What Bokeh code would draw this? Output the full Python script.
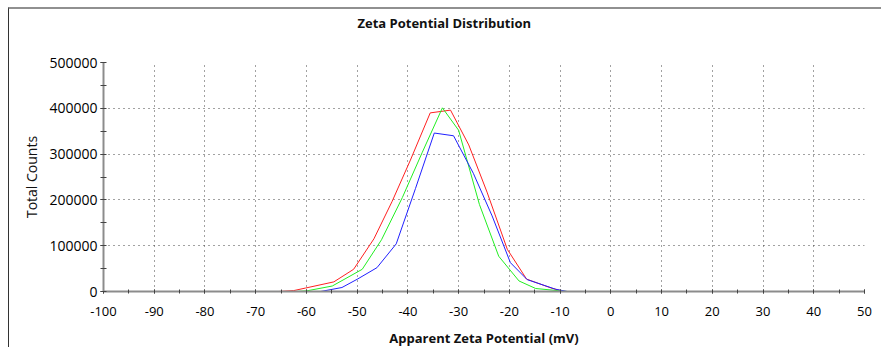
from bokeh.plotting import figure
from bokeh.models import SingleIntervalTicker, NumeralTickFormatter, Range1d, Title
from bokeh.embed import file_html
from bokeh.resources import INLINE

# ---- data ----
red_x = [-65.5, -62.5, -60.2, -54.6, -50.7, -46.7, -43.1, -39.5, -35.6, -31.6, -28.0, -24.4, -20.4, -16.6, -11.6, -9.9]
red_y = [0, 2000, 7500, 21000, 48500, 115000, 197000, 287000, 390000, 396000, 320000, 217000, 92000, 27000, 7000, 2000]

green_x = [-62.0, -59.9, -54.9, -49.0, -45.2, -41.1, -37.2, -33.2, -30.0, -25.9, -22.1, -18.1, -14.8, -8.6]
green_y = [0, 1500, 12000, 48500, 113000, 205000, 303000, 401000, 352000, 190000, 77000, 23000, 6500, 0]

blue_x = [-100, -57.2, -53.0, -50.0, -46.1, -42.3, -38.5, -34.8, -31.0, -27.1, -23.4, -19.8, -16.5, -10.9, -8.6, 50]
blue_y = [0, 0, 8700, 26700, 52000, 104000, 225000, 346000, 340000, 258000, 165000, 63000, 26000, 5000, 0, 0]

x_range = (-100, 50)
y_range = (0, 500000)
title_text = "Zeta Potential Distribution"

FONT = "Open Sans"

p = figure(width=873, height=340, output_backend="svg", toolbar_location=None,
           x_range=Range1d(*x_range), y_range=Range1d(*y_range),
           min_border_left=94, min_border_right=18, min_border_top=53, min_border_bottom=57)
p.title.visible = False
p.styles = {"border-top": "2px solid #909090", "border-left": "1px solid #333333",
            "margin-left": "8px", "margin-top": "7px"}
p.outline_line_color = None
p.background_fill_color = "white"
p.border_fill_color = "white"

# spacer panel between frame and the title (pushes title towards the top edge)
spacer = Title(text=" ", text_font=FONT, text_font_size="13px", standoff=11,
               text_color="white")
p.add_layout(spacer, "above")
main_title = Title(text=title_text, align="left", offset=254, standoff=0,
                   text_font=FONT, text_font_size="13px", text_font_style="bold",
                   text_color="#111111")
p.add_layout(main_title, "above")

p.line(red_x, red_y, line_color="#ff2020", line_width=1)
p.line(green_x, green_y, line_color="#22ee22", line_width=1)
p.line(blue_x, blue_y, line_color="#2020ff", line_width=1)

# axes
p.xaxis.ticker = SingleIntervalTicker(interval=10, num_minor_ticks=2)
p.yaxis.ticker = SingleIntervalTicker(interval=100000, num_minor_ticks=2)
p.xaxis.formatter = NumeralTickFormatter(format="0")
p.yaxis.formatter = NumeralTickFormatter(format="0")

for ax in (p.xaxis[0], p.yaxis[0]):
    ax.axis_line_color = "#8c8c8c"
    ax.axis_line_width = 2
    ax.major_tick_line_color = "#444444"
    ax.minor_tick_line_color = "#444444"
    ax.major_label_text_font = FONT
    ax.major_label_text_color = "#000000"
    ax.axis_label_text_font = FONT
    ax.axis_label_text_color = "#111111"
    ax.axis_label_text_font_style = "normal"

p.xaxis.major_tick_in = 2
p.xaxis.major_tick_out = 2
p.xaxis.minor_tick_in = 2
p.xaxis.minor_tick_out = 2
p.xaxis.major_label_text_font_size = "13px"
p.xaxis.major_label_standoff = 13
p.xaxis.axis_label = "Apparent Zeta Potential (mV)"
p.xaxis.axis_label_text_font_size = "13px"
p.xaxis.axis_label_text_font_style = "bold"
p.xaxis.axis_label_standoff = 10

p.yaxis.major_tick_in = 0
p.yaxis.major_tick_out = 3
p.yaxis.minor_tick_in = 3
p.yaxis.minor_tick_out = 3
p.yaxis.major_label_text_font_size = "14px"
p.yaxis.major_label_standoff = 3
p.yaxis.axis_label = "Total Counts"
p.yaxis.axis_label_text_font_size = "14px"
p.yaxis.axis_label_standoff = 5

# grid
for g in (p.xgrid[0], p.ygrid[0]):
    g.grid_line_color = "#444444"
    g.grid_line_dash = "1 4"
    g.grid_line_width = 1
    g.grid_line_alpha = 1.0
p.xgrid.ticker = SingleIntervalTicker(interval=10)
p.ygrid.ticker = SingleIntervalTicker(interval=100000)

open("out.html", "w").write(file_html(p, INLINE))
